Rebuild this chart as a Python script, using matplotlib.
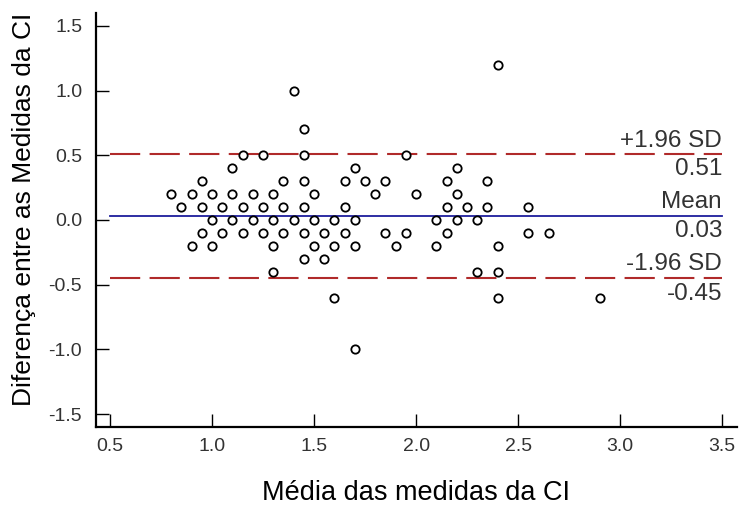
import matplotlib
matplotlib.use('Agg')
import matplotlib.pyplot as plt

plt.rcParams['font.family'] = ['Liberation Sans', 'DejaVu Sans']

# pontos: media das duas medidas da CI (x) e diferenca entre elas (y)
x_mean = [2.4, 1.4, 1.45,
          1.15, 1.25, 1.45, 1.95,
          1.1, 1.7, 2.2,
          0.95, 1.35, 1.45, 1.65, 1.75, 1.85, 2.15, 2.35,
          0.8, 0.9, 1.0, 1.1, 1.2, 1.3, 1.5, 1.8, 2.0, 2.2,
          0.85, 0.95, 1.05, 1.15, 1.25, 1.35, 1.45, 1.65, 2.15, 2.25, 2.35, 2.55,
          1.0, 1.1, 1.2, 1.3, 1.4, 1.5, 1.6, 1.7, 2.1, 2.2, 2.3,
          0.95, 1.05, 1.15, 1.25, 1.35, 1.45, 1.55, 1.65, 1.85, 1.95, 2.15, 2.55, 2.65,
          0.9, 1.0, 1.3, 1.5, 1.6, 1.7, 1.9, 2.1, 2.4,
          1.45, 1.55,
          1.3, 2.3, 2.4,
          1.6, 2.4, 2.9,
          1.7]
y_diff = [1.2, 1.0, 0.7,
          0.5, 0.5, 0.5, 0.5,
          0.4, 0.4, 0.4,
          0.3, 0.3, 0.3, 0.3, 0.3, 0.3, 0.3, 0.3,
          0.2, 0.2, 0.2, 0.2, 0.2, 0.2, 0.2, 0.2, 0.2, 0.2,
          0.1, 0.1, 0.1, 0.1, 0.1, 0.1, 0.1, 0.1, 0.1, 0.1, 0.1, 0.1,
          0.0, 0.0, 0.0, 0.0, 0.0, 0.0, 0.0, 0.0, 0.0, 0.0, 0.0,
          -0.1, -0.1, -0.1, -0.1, -0.1, -0.1, -0.1, -0.1, -0.1, -0.1, -0.1, -0.1, -0.1,
          -0.2, -0.2, -0.2, -0.2, -0.2, -0.2, -0.2, -0.2, -0.2,
          -0.3, -0.3,
          -0.4, -0.4, -0.4,
          -0.6, -0.6, -0.6,
          -1.0]

mean_diff = 0.03
upper_loa = 0.51
lower_loa = -0.45
x_range = [0.5, 3.5]

x_ticks = [0.5, 1.0, 1.5, 2.0, 2.5, 3.0, 3.5]
y_ticks = [-1.5, -1.0, -0.5, 0.0, 0.5, 1.0, 1.5]

fig = plt.figure(figsize=(7.45, 5.26), dpi=100)
ax = fig.add_axes([0.1289, 0.1888, 0.86, 0.7865])

# linhas de concordancia
dash = (0, (14.5, 4.5))
ax.plot(x_range, [upper_loa, upper_loa], color='#b02a2a', lw=1.5, linestyle=dash, zorder=1)
ax.plot(x_range, [lower_loa, lower_loa], color='#b02a2a', lw=1.5, linestyle=dash, zorder=1)
ax.plot(x_range, [mean_diff, mean_diff], color='#1c1c9c', lw=1.3, zorder=1)

ax.plot(x_mean, y_diff, linestyle='none', marker='o', ms=6,
        mfc='white', mec='black', mew=1.3, zorder=3)

# rotulos a direita
lab_kw = dict(ha='right', fontsize=17.5, color='#333333', textcoords='offset points')
ax.annotate('+1.96 SD', (x_range[1], upper_loa), xytext=(0, 1.5), va='bottom', **lab_kw)
ax.annotate(f'{upper_loa:.2f}', (x_range[1], upper_loa), xytext=(0, -3), va='top', **lab_kw)
ax.annotate('Mean', (x_range[1], mean_diff), xytext=(0, 2.5), va='bottom', **lab_kw)
ax.annotate(f'{mean_diff:.2f}', (x_range[1], mean_diff), xytext=(0, -3), va='top', **lab_kw)
ax.annotate('-1.96 SD', (x_range[1], lower_loa), xytext=(0, 2.5), va='bottom', **lab_kw)
ax.annotate(f'{lower_loa:.2f}', (x_range[1], lower_loa), xytext=(0, -3.5), va='top', **lab_kw)

ax.set_xlim(0.431, 3.572)
ax.set_ylim(-1.598, 1.6)
ax.set_xticks(x_ticks)
ax.set_yticks(y_ticks)
ax.set_xticklabels([f'{v:.1f}' for v in x_ticks])
ax.set_yticklabels([f'{v:.1f}' for v in y_ticks])

for s in ['top', 'right']:
    ax.spines[s].set_visible(False)
for s in ['left', 'bottom']:
    ax.spines[s].set_linewidth(1.6)
ax.tick_params(direction='in', length=9.5, width=1.0, labelsize=14,
               labelcolor='#333333')
ax.tick_params(axis='y', pad=10)
ax.tick_params(axis='x', pad=8)

ax.set_xlabel('Média das medidas da CI', fontsize=19.5, labelpad=18)
ax.set_ylabel('Diferença entre as Medidas da CI', fontsize=19)
ax.yaxis.set_label_coords(-0.094, 0.525)

fig.savefig('out.png', dpi=100)
